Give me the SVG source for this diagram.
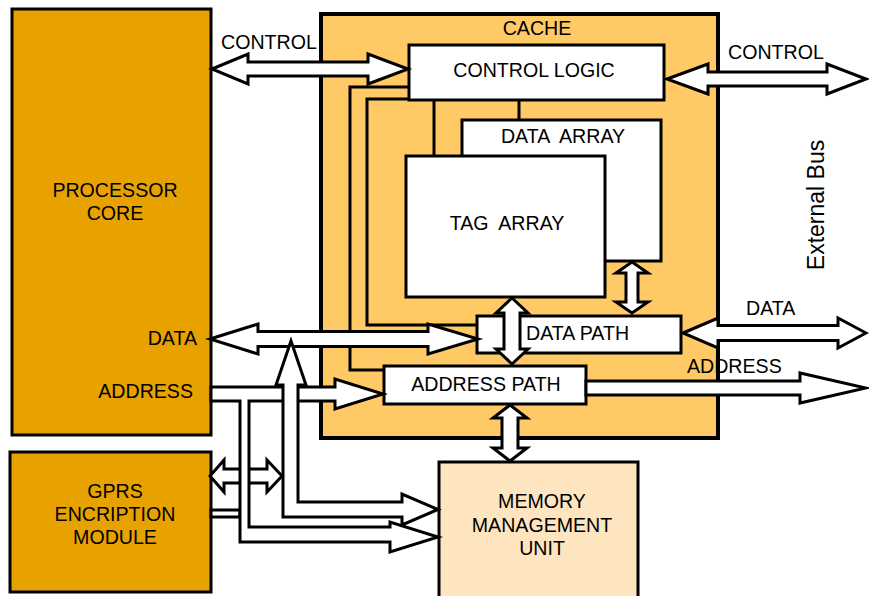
<svg xmlns="http://www.w3.org/2000/svg" width="869" height="596" viewBox="0 0 869 596">
  <style>
    .box { stroke: #000; stroke-width: 3; }
    .core { fill: #E8A200; }
    .cachebg { fill: #FFC966; stroke: #000; stroke-width: 4; }
    .mmu { fill: #FFE4C0; }
    .white { fill: #fff; }
    .wire { fill: none; stroke: #000; stroke-width: 3; }
    .arrow { fill: #fff; stroke: #000; stroke-width: 3; stroke-linejoin: miter; stroke-miterlimit: 10; }
    text { font-family: "Liberation Sans", Arial, sans-serif; font-size: 19.6px; fill: #000; white-space: pre; }
    .c { text-anchor: middle; }
    .r { text-anchor: end; }
  </style>

  <!-- processor core -->
  <g id="processor-core">
    <rect class="box core" x="12" y="9" width="199" height="426"/>
    <text class="c" x="115" y="197">PROCESSOR</text>
    <text class="c" x="115" y="220">CORE</text>
    <text class="r" x="197" y="345">DATA</text>
    <text class="r" x="193" y="398">ADDRESS</text>
  </g>

  <!-- GPRS encryption module -->
  <g id="gprs-module">
    <rect class="box core" x="10" y="452" width="201" height="140"/>
    <text class="c" x="115" y="498">GPRS</text>
    <text class="c" x="115" y="521">ENCRIPTION</text>
    <text class="c" x="115" y="544">MODULE</text>
  </g>

  <!-- cache block -->
  <g id="cache">
    <rect class="cachebg" x="321" y="14" width="397" height="424"/>
    <text class="c" x="537" y="35">CACHE</text>
  </g>

  <!-- memory management unit -->
  <g id="mmu">
    <rect class="box mmu" x="439" y="462" width="199" height="140"/>
    <text class="c" x="542" y="508">MEMORY</text>
    <text class="c" x="542" y="532">MANAGEMENT</text>
    <text class="c" x="542" y="555">UNIT</text>
  </g>

  <!-- internal cache wiring -->
  <g id="cache-wiring">
    <polyline class="wire" points="409,87 350,87 350,370 384,370"/>
    <polyline class="wire" points="409,99 367,99 367,325 477,325"/>
    <line class="wire" x1="434" y1="100" x2="434" y2="156"/>
    <line class="wire" x1="519" y1="100" x2="519" y2="120"/>
  </g>

  <g id="control-logic">
    <rect class="box white" x="409" y="45" width="255" height="55"/>
    <text class="c" x="534" y="77">CONTROL LOGIC</text>
  </g>

  <g id="data-array">
    <rect class="box white" x="462" y="120" width="199" height="141"/>
    <text class="c" x="563" y="143" xml:space="preserve">DATA  ARRAY</text>
  </g>

  <g id="tag-array">
    <rect class="box white" x="406" y="156" width="199" height="141"/>
    <text class="c" x="507" y="230" xml:space="preserve">TAG  ARRAY</text>
  </g>

  <g id="data-path">
    <rect class="box white" x="477" y="316" width="204" height="37"/>
    <text x="526" y="340">DATA PATH</text>
  </g>

  <g id="address-path">
    <rect class="box white" x="384" y="366" width="202" height="38"/>
    <text class="c" x="486" y="391">ADDRESS PATH</text>
  </g>

  <!-- bus connectors -->
  <g id="connectors">
    <!-- processor control bus -->
    <polygon class="arrow" points="212,69 248,54 248,62 368,62 368,54 408,69 368,84 368,76 248,76 248,84"/>
    <!-- external control bus -->
    <polygon class="arrow" points="667,79 708,64 708,72 827,72 827,64 866,79 827,94 827,86 708,86 708,94"/>
    <!-- processor data bus -->
    <polygon class="arrow" points="210,339 258,324 258,331.5 428,331.5 428,324 478,339 428,354 428,346.5 258,346.5 258,354"/>
    <!-- external data bus -->
    <polygon class="arrow" points="683,333 718,318 718,325.5 838,325.5 838,318 866,333 838,348 838,340.5 718,340.5 718,348"/>
    <!-- external address bus -->
    <polygon class="arrow" points="586,381 800,381 800,373 866,388 800,403 800,395 586,395"/>
    <!-- GPRS <-> data bus link -->
    <polygon class="arrow" points="210,476 224,460 224,469 267,469 267,460 282,476 267,492 267,483 224,483 224,492"/>
    <!-- GPRS output feed -->
    <rect class="arrow" x="211" y="510" width="29" height="7"/>
    <!-- processor address bus with branch to MMU -->
    <polygon class="arrow" points="211,387 335,387 335,379 383,394 335,409 335,401 249,401 249,527 390,527 390,522 438,537 390,552 390,542 240,542 240,401 211,401"/>
    <!-- data bus to MMU -->
    <polygon class="arrow" points="291,341 306,385 298,385 298,502 402,502 402,494 438,509.5 402,525 402,517 283,517 283,385 276,385"/>
    <!-- tag array <-> address path -->
    <polygon class="arrow" points="512,298 528,313 520,313 520,349 528,349 512,364 496,349 504,349 504,313 496,313"/>
    <!-- address path <-> MMU -->
    <polygon class="arrow" points="510,405 527,418 518,418 518,448 527,448 510,461 493,448 502,448 502,418 493,418"/>
    <!-- data array <-> data path -->
    <polygon class="arrow" points="632,262 648,273 638,273 638,302 648,302 632,313 616,302 626,302 626,273 616,273"/>
  </g>

  <!-- bus labels -->
  <g id="bus-labels">
    <text x="221" y="49">CONTROL</text>
    <text x="728" y="59">CONTROL</text>
    <text x="746" y="315">DATA</text>
    <text x="687" y="373">ADDRESS</text>
    <text class="c" transform="translate(824,205) rotate(-90)" style="font-size:23px">External Bus</text>
  </g>
</svg>
